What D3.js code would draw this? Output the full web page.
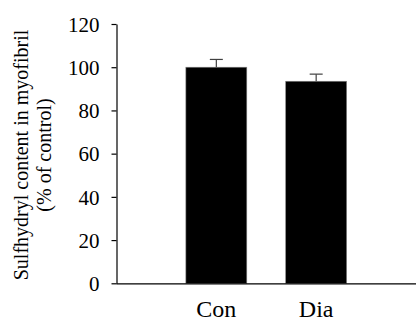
<!DOCTYPE html>
<html>
<head>
<meta charset="utf-8">
<script src="https://cdn.jsdelivr.net/npm/d3@7"></script>
<style>
  body { margin: 0; background: #fff; }
</style>
</head>
<body>
<script>
var groups = ["Con", "Dia"],
    values = [100, 93.5],
    errors = [3.6, 3.3],
    yTicks = [0, 20, 40, 60, 80, 100, 120];

// pick a serif face that is actually installed
var ctx = document.createElement("canvas").getContext("2d");
function w(f) { ctx.font = "20px " + f; return ctx.measureText("Sulfhydryl content 120").width; }
var serifName = ["Liberation Serif", "Times New Roman", "DejaVu Serif", "Noto Serif", "Tinos", "FreeSerif"]
  .find(function(f) {
    return w("'" + f + "', monospace") !== w("monospace") || w("'" + f + "', sans-serif") !== w("sans-serif");
  });
var serif = serifName ? "'" + serifName + "', serif" : "serif";

var width = 416, height = 322,
    margin = {top: 24, right: 0, bottom: 38.7, left: 116.5};

var svg = d3.select("body").append("svg")
    .attr("width", width)
    .attr("height", height);

var x = d3.scaleBand()
    .domain(groups)
    .range([margin.left, width - margin.right])
    .paddingInner(0.39)
    .paddingOuter(0.695);

var y = d3.scaleLinear()
    .domain([0, 120])
    .range([height - margin.bottom, margin.top]);

// bars
svg.selectAll(".bar")
    .data(groups)
  .enter().append("rect")
    .attr("class", "bar")
    .attr("x", function(d) { return x(d); })
    .attr("y", function(d, i) { return y(values[i]); })
    .attr("width", x.bandwidth())
    .attr("height", function(d, i) { return y(0) - y(values[i]); })
    .attr("fill", "#000")
    .attr("stroke", "#7f7f7f")
    .attr("stroke-width", 0.6);

// error bars (upper only)
var err = svg.selectAll(".err")
    .data(groups)
  .enter().append("g")
    .attr("class", "err")
    .attr("stroke", "#404040")
    .attr("stroke-width", 1.2);

err.append("line")
    .attr("x1", function(d) { return x(d) + x.bandwidth() / 2; })
    .attr("x2", function(d) { return x(d) + x.bandwidth() / 2; })
    .attr("y1", function(d, i) { return y(values[i]); })
    .attr("y2", function(d, i) { return y(values[i] + errors[i]); });

err.append("line")
    .attr("x1", function(d) { return x(d) + x.bandwidth() / 2 - 6.5; })
    .attr("x2", function(d) { return x(d) + x.bandwidth() / 2 + 6.5; })
    .attr("y1", function(d, i) { return y(values[i] + errors[i]); })
    .attr("y2", function(d, i) { return y(values[i] + errors[i]); });

// y axis
var yAxis = svg.append("g")
    .attr("transform", "translate(" + margin.left + ",0)")
    .call(d3.axisLeft(y).tickValues(yTicks).tickSize(5).tickPadding(12).tickSizeOuter(0));

yAxis.attr("font-family", serif);
yAxis.selectAll("text")
    .attr("font-family", serif)
    .attr("font-size", 21)
    .attr("dy", "0.34em");

// x axis
var xAxis = svg.append("g")
    .attr("transform", "translate(0," + y(0) + ")")
    .call(d3.axisBottom(x).tickSize(0).tickPadding(17).tickSizeOuter(0));

xAxis.attr("font-family", serif);
xAxis.select(".domain").attr("d", "M" + margin.left + ",0.5H" + width);
xAxis.selectAll("text")
    .attr("font-family", serif)
    .attr("font-size", 24);

svg.selectAll(".domain, .tick line")
    .attr("stroke", "#000")
    .attr("stroke-width", 1.2);

// y axis title
var title = svg.append("text")
    .attr("transform", "translate(0," + 155 + ") rotate(-90)")
    .attr("text-anchor", "middle")
    .attr("font-family", serif)
    .attr("font-size", 20);

title.append("tspan").attr("x", 0).attr("y", 28).text("Sulfhydryl content in myofibril");
title.append("tspan").attr("x", 0).attr("y", 51).text("(% of control)");
</script>
</body>
</html>
